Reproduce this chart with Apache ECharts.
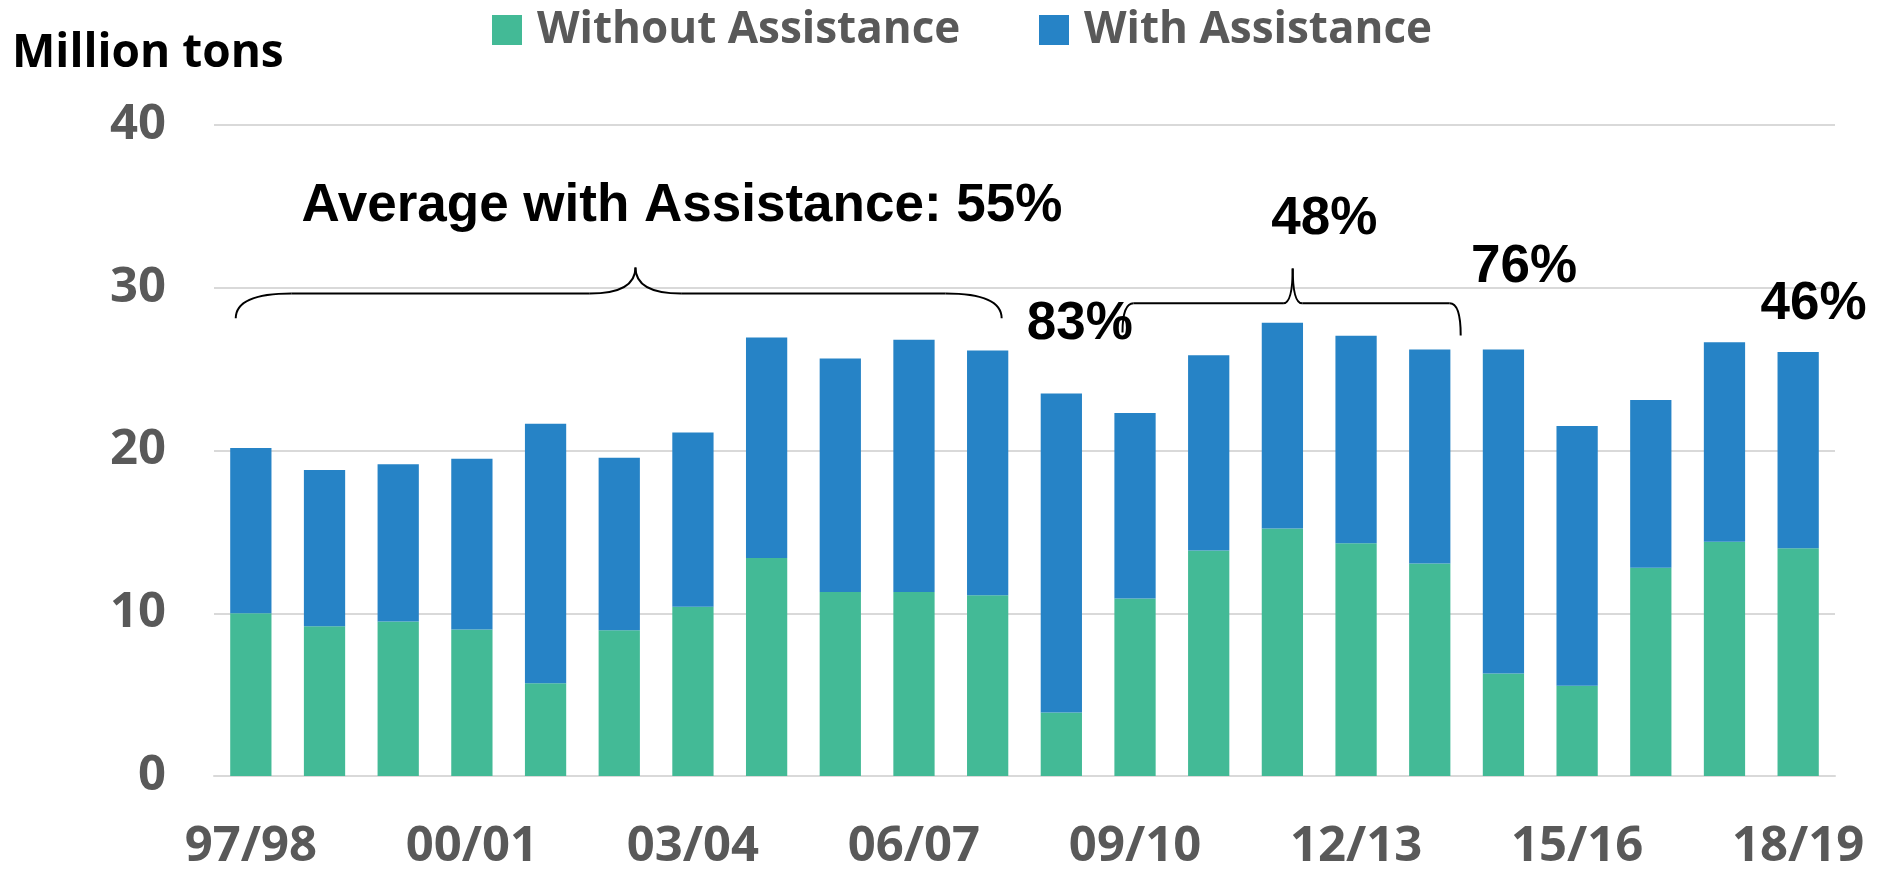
<!DOCTYPE html>
<html>
<head>
<meta charset="utf-8">
<script src="https://cdn.jsdelivr.net/npm/echarts@6/dist/echarts.min.js"></script>
<style>
html,body{margin:0;padding:0;background:#ffffff;}
#chart{width:1888px;height:872px;}
</style>
</head>
<body>
<div id="chart"></div>
<script>
// ---- data ----
const categories = ['97/98','98/99','99/00','00/01','01/02','02/03','03/04','04/05','05/06','06/07','07/08','08/09','09/10','10/11','11/12','12/13','13/14','14/15','15/16','16/17','17/18','18/19'];
const withoutAssistance = [10.0, 9.2, 9.5, 9.0, 5.7, 8.95, 10.4, 13.4, 11.3, 11.3, 11.1, 3.9, 10.9, 13.85, 15.2, 14.3, 13.05, 6.3, 5.55, 12.8, 14.4, 14.0];
const withAssistance = [10.15, 9.6, 9.65, 10.5, 15.95, 10.6, 10.7, 13.55, 14.35, 15.5, 15.05, 19.6, 11.4, 12.0, 12.65, 12.75, 13.15, 19.9, 15.95, 10.3, 12.25, 12.05];
const seriesNames = ['Without Assistance', 'With Assistance'];
const yTickValues = [0, 10, 20, 30, 40];
const annotationTexts = ['Average with Assistance: 55%', '83%', '48%', '76%', '46%'];

// ---- layout (annotation anchors in [category index, value] units) ----
const annotationAnchors = [[5.85, 35.17], [11.25, 27.9], [14.57, 34.34], [17.28, 31.43], [21.21, 29.13]];
const braceDefs = [
  {xl: -0.205, xr: 10.19, xm: 5.22, yeL: 28.12, yeR: 28.12, yh: 29.65, yt: 31.25, r: 0.76, rm: 0.62},
  {xl: 11.83, xr: 16.42, xm: 14.14, yeL: 27.25, yeR: 27.07, yh: 29.04, yt: 31.19, r: 0.15, rm: 0.13}
];

const GREEN = '#43BA96';
const BLUE = '#2683C6';
const GREY = '#595959';
const LABEL_FONT = '"Open Sans", "Noto Sans", sans-serif';
const NOTE_FONT = '"Liberation Sans", Arial, sans-serif';

const chart = echarts.init(document.getElementById('chart'), null, {renderer: 'canvas'});

const option = {
  animation: false,
  backgroundColor: '#ffffff',
  title: {
    text: 'Million tons',
    left: 12, top: 31, padding: 0,
    textStyle: {fontFamily: LABEL_FONT, fontWeight: 'bold', fontSize: 46, color: '#000000'}
  },
  legend: [
    {
      data: [seriesNames[0]], left: 492, top: 8, padding: 0,
      itemWidth: 30, itemHeight: 30, icon: 'rect',
      textStyle: {fontFamily: LABEL_FONT, fontWeight: 'bold', fontSize: 44, color: GREY, padding: [0, 0, 0, 10]}
    },
    {
      data: [seriesNames[1]], left: 1039, top: 8, padding: 0,
      itemWidth: 30, itemHeight: 30, icon: 'rect',
      textStyle: {fontFamily: LABEL_FONT, fontWeight: 'bold', fontSize: 44, color: GREY, padding: [0, 0, 0, 10]}
    }
  ],
  grid: {left: 214, right: 53, top: 125, bottom: 94, containLabel: false},
  xAxis: {
    type: 'category',
    data: categories,
    axisLine: {show: true, lineStyle: {color: '#D9D9D9', width: 2}},
    axisTick: {show: false},
    axisLabel: {interval: 2, margin: 47, fontFamily: LABEL_FONT, fontWeight: 'bold', fontSize: 49, color: GREY}
  },
  yAxis: {
    type: 'value',
    min: yTickValues[0], max: yTickValues[yTickValues.length - 1], interval: 10,
    axisLine: {show: false},
    axisTick: {show: false},
    splitLine: {lineStyle: {color: '#D9D9D9', width: 2}},
    axisLabel: {margin: 48, fontFamily: LABEL_FONT, fontWeight: 'bold', fontSize: 49, color: GREY}
  },
  series: [
    {name: seriesNames[0], type: 'bar', stack: 'total', data: withoutAssistance, barWidth: '56%',
     itemStyle: {color: GREEN}},
    {name: seriesNames[1], type: 'bar', stack: 'total', data: withAssistance, barWidth: '56%',
     itemStyle: {color: BLUE}}
  ]
};
chart.setOption(option);

// ---- annotations placed through the chart's own scales ----
const x0 = chart.convertToPixel({xAxisIndex: 0}, 0);
const x1 = chart.convertToPixel({xAxisIndex: 0}, 1);
const px = i => x0 + (x1 - x0) * i;
const py = v => chart.convertToPixel({yAxisIndex: 0}, v);

const graphics = [];
annotationTexts.forEach((t, k) => {
  const a = annotationAnchors[k];
  graphics.push({
    type: 'text', x: px(a[0]), y: py(a[1]) + 2.6, silent: true,
    style: {text: t, fill: '#000000', font: 'bold 53px ' + NOTE_FONT, align: 'center', verticalAlign: 'middle'}
  });
});
const lineStyle = {stroke: '#000000', fill: null, lineWidth: 2};
function curve(xa, ya, cx, cy, xb, yb) {
  graphics.push({type: 'bezierCurve', silent: true,
    shape: {x1: xa, y1: ya, x2: xb, y2: yb, cpx1: cx, cpy1: cy}, style: lineStyle});
}
function seg(xa, ya, xb, yb) {
  graphics.push({type: 'line', silent: true,
    shape: {x1: xa, y1: ya, x2: xb, y2: yb}, style: lineStyle});
}
braceDefs.forEach(b => {
  const xl = px(b.xl), xr = px(b.xr), xm = px(b.xm);
  const r = (x1 - x0) * b.r, rm = (x1 - x0) * b.rm;
  const yeL = py(b.yeL), yeR = py(b.yeR), yh = py(b.yh), yt = py(b.yt);
  curve(xl, yeL, xl, yh, xl + r, yh);
  seg(xl + r, yh, xm - rm, yh);
  curve(xm - rm, yh, xm, yh, xm, yt);
  curve(xm, yt, xm, yh, xm + rm, yh);
  seg(xm + rm, yh, xr - r, yh);
  curve(xr - r, yh, xr, yh, xr, yeR);
});
chart.setOption({graphic: graphics});
</script>
</body>
</html>
